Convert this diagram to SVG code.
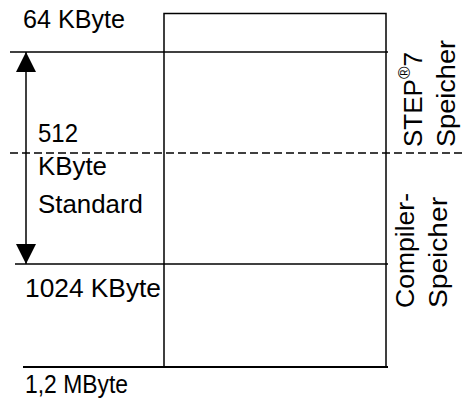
<svg xmlns="http://www.w3.org/2000/svg" width="464" height="401" viewBox="0 0 464 401">
<style>
  .t { font-family: "Liberation Sans", Arial, sans-serif; font-size: 26px; fill: #000; }
  .ln { stroke: #000; stroke-width: 1.5; fill: none; }
</style>
<defs>
  <marker id="ah" viewBox="0 0 20 20" refX="20" refY="10" markerWidth="20" markerHeight="20" markerUnits="userSpaceOnUse" orient="auto">
    <path d="M0,0 L20,10 L0,20 Z" fill="#000"/>
  </marker>
</defs>
<rect width="464" height="401" fill="#fff"/>
<g id="memory-box">
  <rect class="ln" x="164" y="13.5" width="222" height="353.5"/>
</g>
<g id="connectors">
  <line class="ln" x1="10" y1="52" x2="388" y2="52"/>
  <line class="ln" x1="10" y1="153" x2="464" y2="153" stroke-dasharray="8,4"/>
  <line class="ln" x1="15" y1="264" x2="388" y2="264"/>
  <line x1="23" y1="367" x2="388" y2="367" stroke="#000" stroke-width="2"/>
  <line class="ln" x1="26" y1="150" x2="26" y2="52" marker-end="url(#ah)"/>
  <line class="ln" x1="26" y1="150" x2="26" y2="264" marker-end="url(#ah)"/>
</g>
<g id="labels-left">
  <text class="t" x="23" y="28" textLength="102" lengthAdjust="spacingAndGlyphs">64 KByte</text>
  <text class="t" x="38" y="141.5" textLength="40" lengthAdjust="spacingAndGlyphs">512</text>
  <text class="t" x="38" y="175" textLength="69" lengthAdjust="spacingAndGlyphs">KByte</text>
  <text class="t" x="38" y="213" textLength="105" lengthAdjust="spacingAndGlyphs">Standard</text>
  <text class="t" x="25" y="296.5" textLength="136" lengthAdjust="spacingAndGlyphs">1024 KByte</text>
  <text class="t" x="25" y="393" textLength="103" lengthAdjust="spacingAndGlyphs">1,2 MByte</text>
</g>
<g id="label-step7">
  <text class="t" transform="translate(422,147) rotate(-90)" font-size="27">STEP<tspan font-size="17" dy="-12">®</tspan><tspan dy="12">7</tspan></text>
  <text class="t" transform="translate(455,147) rotate(-90)" textLength="107" lengthAdjust="spacingAndGlyphs">Speicher</text>
</g>
<g id="label-compiler">
  <text class="t" transform="translate(414,308) rotate(-90)" textLength="115" lengthAdjust="spacingAndGlyphs">Compiler-</text>
  <text class="t" transform="translate(447,308) rotate(-90)" textLength="111" lengthAdjust="spacingAndGlyphs">Speicher</text>
</g>
</svg>
